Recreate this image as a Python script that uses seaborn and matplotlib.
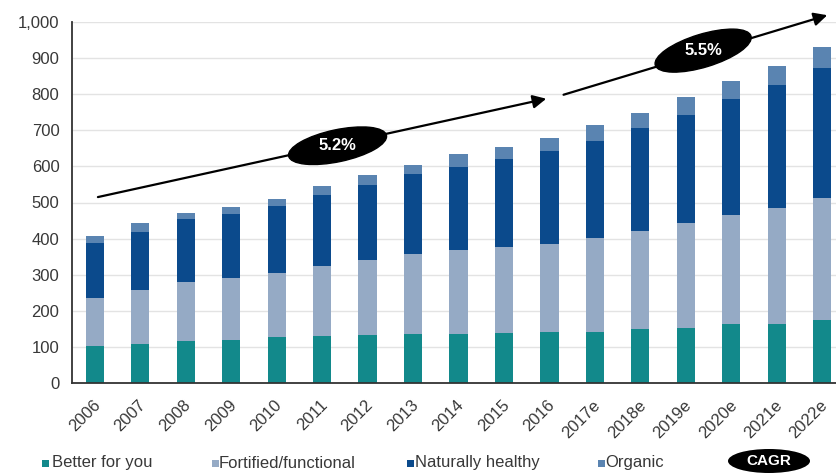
import numpy as np
import pandas as pd
import matplotlib
matplotlib.use("Agg")
import matplotlib.pyplot as plt
import seaborn as sns
from matplotlib.patches import Ellipse, Rectangle
from matplotlib.transforms import ScaledTranslation
from matplotlib.ticker import FuncFormatter, FixedLocator

# ---------------- data ----------------
years = ["2006", "2007", "2008", "2009", "2010", "2011", "2012", "2013", "2014",
         "2015", "2016", "2017e", "2018e", "2019e", "2020e", "2021e", "2022e"]
better_for_you = [104, 110, 116, 119, 128, 131, 133, 137, 137, 139, 141, 143, 151, 154, 164, 164, 176]
fortified_functional = [132, 149, 165, 171, 178, 193, 208, 221, 233, 239, 245, 258, 270, 288, 301, 322, 336]
naturally_healthy = [151, 160, 173, 177, 183, 196, 208, 220, 229, 242, 256, 270, 285, 301, 320, 340, 361]
organic = [20, 23, 16, 21, 22, 25, 28, 26, 34, 33, 36, 42, 42, 49, 51, 51, 58]

series_names = ["Better for you", "Fortified/functional", "Naturally healthy", "Organic"]
cagr_labels = ["5.2%", "5.5%"]
cagr_legend = "CAGR"

colors = ["#12898B", "#95AAC5", "#0B4A8C", "#5A84B1"]

# ---------------- styling ----------------
sns.set_style("white")
plt.rcParams["font.family"] = ["Liberation Sans", "DejaVu Sans"]
text_color = "#383838"

W, H, DPI = 837, 474, 100
fig = plt.figure(figsize=(W / DPI, H / DPI), dpi=DPI)
ax = fig.add_axes([72 / W, 1 - 383.3 / H, (845 - 72) / W, (383.3 - 21.7) / H])

# cumulative stacks, drawn tallest first so lower segments overlay
series = [better_for_you, fortified_functional, naturally_healthy, organic]
cum = np.cumsum(np.array(series), axis=0)
rows = []
for name, vals in zip(series_names, cum):
    for y, v in zip(years, vals):
        rows.append({"year": y, "value": v, "series": name})
df = pd.DataFrame(rows)
order_draw = series_names[::-1]
pal = dict(zip(series_names, colors))
sns.barplot(data=df, x="year", y="value", hue="series", hue_order=order_draw,
            order=years, palette=pal, dodge=False, saturation=1, width=0.4,
            errorbar=None, legend=False, ax=ax, zorder=2)
for p in ax.patches:
    p.set_linewidth(0)

ax.set_xlim(-0.5, len(years) - 0.5)
ax.set_ylim(0, 1000)
ax.set_xlabel("")
ax.set_ylabel("")

# axes / ticks
ax.set_yticks(np.arange(0, 1001, 100))
ax.yaxis.set_major_formatter(FuncFormatter(lambda v, p: f"{int(v):,}"))
ax.yaxis.grid(True, color="#e3e3e3", lw=1)
ax.set_axisbelow(True)
for s in ["top", "right"]:
    ax.spines[s].set_visible(False)
for s in ["left", "bottom"]:
    ax.spines[s].set_color("#333333")
    ax.spines[s].set_linewidth(1.3)
ax.tick_params(axis="y", length=5, width=1, color="#333333", labelsize=12,
               labelcolor=text_color, pad=4)
ax.tick_params(axis="x", which="major", length=0, labelsize=12,
               labelcolor=text_color, pad=14)
ax.xaxis.set_minor_locator(FixedLocator(np.arange(-0.5, len(years), 1.0)))
ax.tick_params(axis="x", which="minor", length=5, width=1, color="#333333")
for lab in ax.get_xticklabels():
    lab.set_rotation(45)
    lab.set_ha("right")
    lab.set_va("center")
    lab.set_rotation_mode("anchor")
    lab.set_transform(lab.get_transform() + ScaledTranslation(3 / DPI, 0, fig.dpi_scale_trans))

# ---------------- CAGR arrows ----------------
arrow_kw = dict(arrowstyle="-|>", color="black", lw=1.6, mutation_scale=20,
                shrinkA=0, shrinkB=0)
ax.annotate("", xy=(9.93, 787), xytext=(0.07, 515), arrowprops=arrow_kw,
            annotation_clip=False, zorder=5)
ax.annotate("", xy=(16.11, 1018), xytext=(10.31, 798), arrowprops=arrow_kw,
            annotation_clip=False, zorder=5)

def ellipse_label(xd, yd, angle, label, w=1.0, h=0.32):
    tr = fig.dpi_scale_trans + ScaledTranslation(xd, yd, ax.transData)
    e = Ellipse((0, 0), w, h, angle=angle, transform=tr, facecolor="black",
                edgecolor="black", zorder=6, clip_on=False)
    ax.add_artist(e)
    ax.text(xd, yd, label, color="white", fontsize=12, fontweight="bold",
            ha="center", va="center", zorder=7, clip_on=False)

ellipse_label(5.34, 657, 12, cagr_labels[0], 1.0, 0.32)
ellipse_label(13.38, 920, 17, cagr_labels[1], 1.0, 0.33)

# ---------------- legend ----------------
leg_y = 463
marker_x = [42, 212, 407, 598]
text_x = [52, 219, 415, 605]
for mx, tx, name, c in zip(marker_x, text_x, series_names, colors):
    fig.add_artist(Rectangle((mx / W, 1 - (leg_y + 3.5) / H), 7 / W, 7 / H,
                             transform=fig.transFigure, facecolor=c, edgecolor="none"))
    fig.text(tx / W, 1 - leg_y / H, name, fontsize=12, color=text_color,
             ha="left", va="center")
fig.add_artist(Ellipse((769 / W, 1 - 461 / H), 82 / W, 24 / H,
                       transform=fig.transFigure, facecolor="black", edgecolor="none"))
fig.text(769 / W, 1 - 461 / H, cagr_legend, fontsize=11, fontweight="bold",
         color="white", ha="center", va="center")

fig.savefig("out.png", dpi=DPI)
